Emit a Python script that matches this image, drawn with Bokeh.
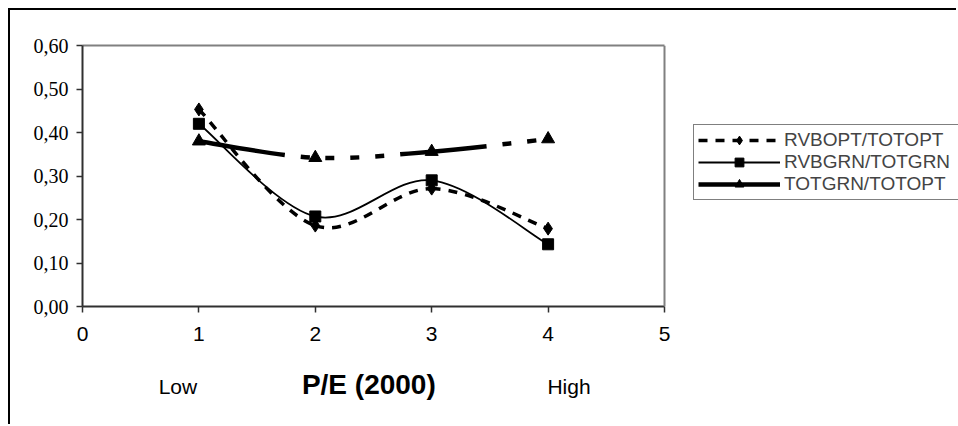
from bokeh.plotting import figure
from bokeh.models import (ColumnDataSource, FixedTicker, Legend, LegendItem, LinearAxis,
                          Range1d, Span)
from bokeh.embed import file_html
from bokeh.resources import INLINE

# ---- data ----
pe_class = [1, 2, 3, 4]
rvbopt_totopt = [0.453, 0.186, 0.271, 0.179]
rvbgrn_totgrn = [0.420, 0.207, 0.290, 0.143]
totgrn_totopt = [0.380, 0.342, 0.356, 0.385]
series_names = ["RVBOPT/TOTOPT", "RVBGRN/TOTGRN", "TOTGRN/TOTOPT"]
x_ticks = [0, 1, 2, 3, 4, 5]
y_ticks = [0.0, 0.1, 0.2, 0.3, 0.4, 0.5, 0.6]
y_tick_labels = ["0,00", "0,10", "0,20", "0,30", "0,40", "0,50", "0,60"]
x_title = "P/E (2000)"
x_title_pos = [2.46]
end_labels = ["Low", "High"]
end_label_x = [0.82, 4.18]
X_MAX, Y_MAX = 5, 0.6


def smooth(xs, ys, dash_offsets):
    """Bezier control points (Excel-like smoothing) for each segment."""
    n = len(xs)
    d = dict(x0=[], y0=[], x1=[], y1=[], cx0=[], cy0=[], cx1=[], cy1=[], off=[])
    for i in range(n - 1):
        a = i - 1 if i > 0 else i
        b = i + 2 if i + 2 < n else i + 1
        d["x0"].append(xs[i]); d["y0"].append(ys[i])
        d["x1"].append(xs[i + 1]); d["y1"].append(ys[i + 1])
        d["cx0"].append(xs[i] + (xs[i + 1] - xs[a]) / 6)
        d["cy0"].append(ys[i] + (ys[i + 1] - ys[a]) / 6)
        d["cx1"].append(xs[i + 1] - (xs[b] - xs[i]) / 6)
        d["cy1"].append(ys[i + 1] - (ys[b] - ys[i]) / 6)
        d["off"].append(dash_offsets[i])
    return ColumnDataSource(d)


# layout (page pixels): canvas starts at 10 (8px margin + 2px border)
W, H = 948, 416
FRAME_L, FRAME_R_DATA, CANVAS_R = 82, 664, 958
x_end = X_MAX * (CANVAS_R - FRAME_L) / (FRAME_R_DATA - FRAME_L)

p = figure(width=W, height=H, output_backend="svg", toolbar_location=None,
           x_range=Range1d(0, x_end), y_range=Range1d(0, Y_MAX),
           min_border_left=FRAME_L - 10, min_border_top=35, min_border_right=0,
           min_border_bottom=120)
p.styles = {"margin-left": "8px", "margin-top": "8px",
            "border-left": "2px solid black", "border-top": "2px solid black"}
p.xgrid.visible = False
p.ygrid.visible = False
p.outline_line_color = None
p.background_fill_color = "white"
p.border_fill_color = "white"

# axes
p.xaxis.ticker = FixedTicker(ticks=x_ticks)
p.xaxis.bounds = (0, X_MAX)
p.yaxis.ticker = FixedTicker(ticks=y_ticks)
p.yaxis.major_label_overrides = {t: l for t, l in zip(y_ticks, y_tick_labels)}
for ax in (p.xaxis[0], p.yaxis[0]):
    ax.axis_line_color = "#303030"
    ax.axis_line_width = 2
    ax.major_tick_line_color = "#303030"
    ax.major_tick_line_width = 1.5
    ax.major_tick_in = 0
    ax.major_tick_out = 6
    ax.minor_tick_line_color = None
    ax.major_label_text_color = "black"
p.yaxis.major_label_text_font = "Liberation Serif"
p.yaxis.major_label_text_font_size = "20px"
p.yaxis.major_label_standoff = 8
p.xaxis.major_label_text_font = "Liberation Sans"
p.xaxis.major_label_text_font_size = "21px"
p.xaxis.major_label_standoff = 14

# gray plot-area border on top and right
top_border = LinearAxis(bounds=(0, X_MAX), axis_line_color="#808080", axis_line_width=2,
                        major_tick_line_color=None, minor_tick_line_color=None,
                        major_label_text_font_size="0px", ticker=FixedTicker(ticks=[]))
p.add_layout(top_border, "above")
p.add_layout(Span(location=X_MAX, dimension="height", line_color="#808080", line_width=2))

# caption axes: Low / High and the title on the same line
cap_axis = LinearAxis(ticker=FixedTicker(ticks=end_label_x),
                      major_label_overrides={t: l for t, l in zip(end_label_x, end_labels)},
                      axis_line_color=None, major_tick_line_color=None,
                      minor_tick_line_color=None, major_tick_out=0, major_tick_in=0,
                      major_label_standoff=31,
                      major_label_text_font="Liberation Sans",
                      major_label_text_font_size="21px",
                      major_label_text_color="black")
p.add_layout(cap_axis, "below")
title_axis = LinearAxis(ticker=FixedTicker(ticks=x_title_pos),
                        major_label_overrides={x_title_pos[0]: x_title},
                        axis_line_color=None, major_tick_line_color=None,
                        minor_tick_line_color=None, major_tick_out=0, major_tick_in=0,
                        major_label_standoff=-32,
                        major_label_text_font="Liberation Sans",
                        major_label_text_font_size="28px",
                        major_label_text_font_style="bold",
                        major_label_text_color="black")
p.add_layout(title_axis, "below")

# styles (dash offsets keep the pattern running across the curve's segments)
styles = [
    dict(line_width=3.5, line_dash="9 8", offsets=[0, 0, 0], marker="diamond", size=13),
    dict(line_width=1.8, line_dash="solid", offsets=[0, 0, 0], marker="square", size=11),
    dict(line_width=4.5, line_dash="87 16 9 16 9 16 9 16 9 16", offsets=[0, 118, 32],
         marker="triangle", size=13),
]
series = [rvbopt_totopt, rvbgrn_totgrn, totgrn_totopt]

curves = []
for name, ys, st in zip(series_names, series, styles):
    src = smooth(pe_class, ys, st["offsets"])
    curves.append(p.bezier(x0="x0", y0="y0", x1="x1", y1="y1", cx0="cx0", cy0="cy0",
                           cx1="cx1", cy1="cy1", source=src, line_color="black",
                           line_width=st["line_width"], line_dash=st["line_dash"],
                           line_dash_offset="off"))
items = []
for name, ys, st, cr in zip(series_names, series, styles, curves):
    sc = p.scatter(x=pe_class, y=ys, marker=st["marker"], size=st["size"],
                   fill_color="black", line_color="black")
    items.append(LegendItem(label=name, renderers=[cr, sc]))

legend = Legend(items=items, location=(611, 106), margin=0, padding=4,
                spacing=0, glyph_width=82, glyph_height=22, label_height=19,
                label_width=178, label_standoff=4,
                label_text_font="Liberation Sans", label_text_font_size="19px",
                border_line_color="black", border_line_width=1,
                background_fill_color="white", background_fill_alpha=1)
p.add_layout(legend, "center")

open("out.html", "w").write(file_html(p, INLINE))
